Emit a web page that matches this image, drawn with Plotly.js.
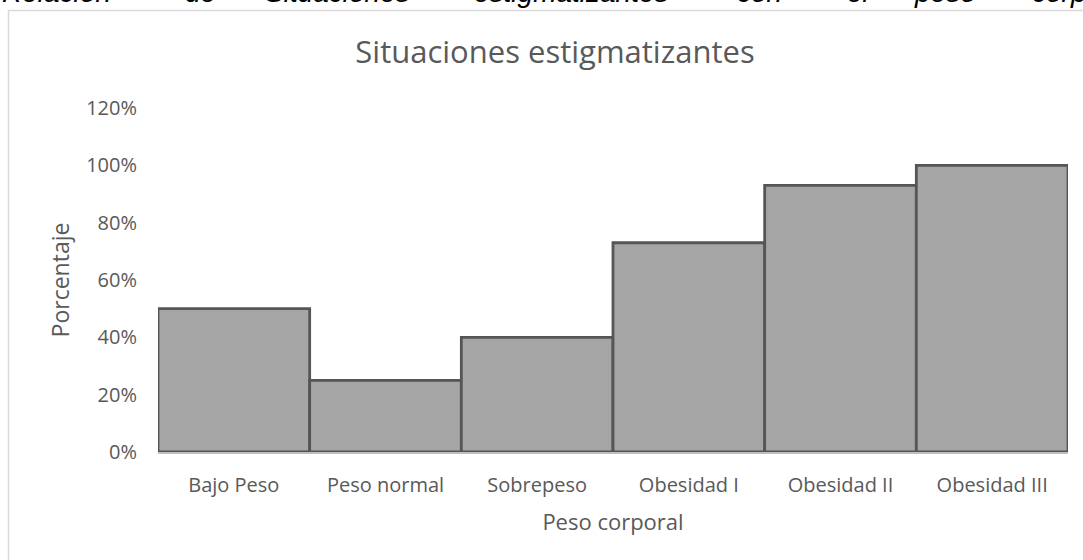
<!DOCTYPE html>
<html>
<head>
<meta charset="utf-8">
<script src="https://cdn.plot.ly/plotly-3.0.1.min.js"></script>
<style>
html, body { margin: 0; padding: 0; background: #ffffff; }
#chart { width: 1083px; height: 560px; }
</style>
</head>
<body>
<div id="chart"></div>
<script>
// ---- data ----
var categories = ["Bajo Peso", "Peso normal", "Sobrepeso", "Obesidad I", "Obesidad II", "Obesidad III"];
var percentages = [0.50, 0.25, 0.40, 0.73, 0.93, 1.00];
var yTickValues = [0, 0.2, 0.4, 0.6, 0.8, 1.0, 1.2];
var yTickLabels = ["0%", "20%", "40%", "60%", "80%", "100%", "120%"];
var chartTitle = "Situaciones estigmatizantes";
var xTitle = "Peso corporal";
var yTitle = "Porcentaje";
var headerWords = ["Relación", "de", "Situaciones", "estigmatizantes", "con", "el", "peso", "corporal"];
var headerWordX = [0, 183, 263, 472, 735, 845, 912, 1030];

// ---- layout geometry ----
var W = 1083, H = 560;
var M = { l: 158, r: 15, t: 108, b: 108 };
var PW = W - M.l - M.r, PH = H - M.t - M.b;
function px2paperX(px) { return (px - M.l) / PW; }
function px2paperY(py) { return (H - M.b - py) / PH; }

var textColor = "#595959";
var baseFont = "Open Sans, Noto Sans, sans-serif";

var trace = {
  type: "bar",
  x: categories,
  y: percentages,
  marker: {
    color: "#a5a5a5",
    line: { color: "#555555", width: 2.8 }
  },
  hoverinfo: "x+y"
};

var headerAnnotations = headerWords.map(function (w, i) {
  return {
    text: w,
    xref: "paper", yref: "paper",
    x: px2paperX(headerWordX[i]), y: px2paperY(10),
    xanchor: "left", yanchor: "bottom",
    showarrow: false,
    font: { family: "Liberation Sans, Arial, sans-serif", size: 28, color: "#000000", style: "italic" }
  };
});

var layout = {
  width: W, height: H,
  margin: M,
  paper_bgcolor: "#ffffff",
  plot_bgcolor: "#ffffff",
  showlegend: false,
  bargap: 0,
  title: {
    text: chartTitle,
    font: { family: baseFont, size: 31, color: textColor },
    xref: "container", yref: "container",
    x: 555 / W, y: 1 - 52 / H,
    xanchor: "center", yanchor: "middle"
  },
  xaxis: {
    type: "category",
    showline: true, linecolor: "#bfbfbf", linewidth: 1.5,
    showgrid: false, zeroline: false,
    ticks: "",
    ticklabelstandoff: 14,
    tickfont: { family: baseFont, size: 20, color: textColor },
    title: { text: xTitle, font: { family: baseFont, size: 22, color: textColor }, standoff: 18 }
  },
  yaxis: {
    range: [0, 1.2],
    tickvals: yTickValues,
    ticktext: yTickLabels,
    showline: false, showgrid: false, zeroline: false,
    ticks: "",
    ticklabelstandoff: 20,
    tickfont: { family: baseFont, size: 20, color: textColor },
    title: { text: yTitle, font: { family: baseFont, size: 23, color: textColor }, standoff: 10 }
  },
  shapes: [{
    type: "rect",
    xref: "paper", yref: "paper",
    x0: px2paperX(8.5), x1: px2paperX(1200),
    y0: px2paperY(700), y1: px2paperY(10.5),
    line: { color: "#d9d9d9", width: 1.5 },
    fillcolor: "rgba(0,0,0,0)",
    layer: "below"
  }],
  annotations: headerAnnotations
};

Plotly.newPlot("chart", [trace], layout, { displayModeBar: false, staticPlot: true });
</script>
</body>
</html>
